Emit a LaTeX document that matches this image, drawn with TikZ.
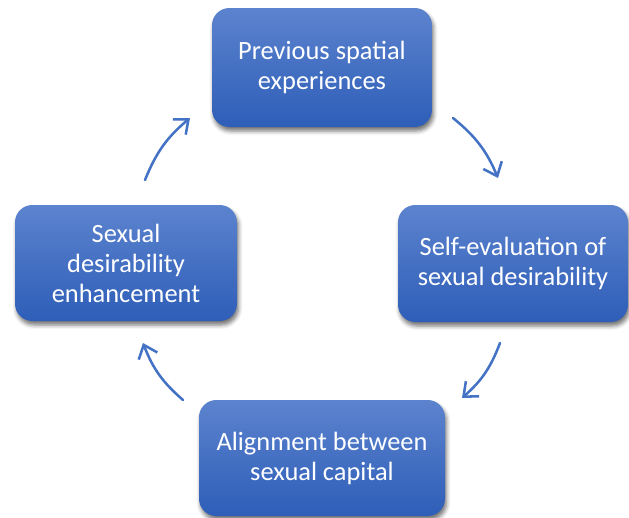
\documentclass[tikz,border=0pt]{standalone}
\usepackage{fontspec}
\setmainfont{Carlito}
\usetikzlibrary{arrows.meta,shadows.blur}
\definecolor{boxtop}{RGB}{92,131,206}
\definecolor{boxbot}{RGB}{46,94,184}
\definecolor{arrowblue}{RGB}{68,114,196}
\tikzset{
  stagebox/.style={rounded corners=13pt, top color=boxtop, bottom color=boxbot,
    draw=none, text=white, align=center, inner sep=0pt,
    font=\fontsize{19.8}{22.5}\selectfont,
    blur shadow={shadow xshift=1.2pt, shadow yshift=-3pt, shadow blur radius=3pt, shadow opacity=55}},
  cyclearrow/.style={draw=arrowblue, line width=1.9pt, line cap=round,
    -{Straight Barb[length=9pt,width=15pt,line width=1.9pt]}}
}
\begin{document}
\begin{tikzpicture}[x=0.75pt,y=0.75pt]
\useasboundingbox (0,0) rectangle (629,-518);
\node[stagebox, minimum width=220*0.75pt, minimum height=119*0.75pt] (top) at (322,-67.5) {Previous spatial\\experiences};
\node[stagebox, minimum width=230*0.75pt, minimum height=117*0.75pt] (right) at (513,-263.5) {Self-evaluation of\\sexual desirability};
\node[stagebox, minimum width=222*0.75pt, minimum height=116*0.75pt] (left) at (126,-263) {Sexual\\desirability\\enhancement};
\node[stagebox, minimum width=246*0.75pt, minimum height=116*0.75pt] (bottom) at (322,-458) {Alignment between\\sexual capital};
\coordinate (a1s) at (453,-118);
\coordinate (a1e) at (498,-178);
\coordinate (a2s) at (500,-343);
\coordinate (a2e) at (462,-398);
\coordinate (a3s) at (183,-400);
\coordinate (a3e) at (143,-343);
\coordinate (a4s) at (145,-180);
\coordinate (a4e) at (190,-118);
\draw[cyclearrow] (a1s) to[bend left=14] (a1e);
\draw[cyclearrow] (a2s) to[bend left=14] (a2e);
\draw[cyclearrow] (a3s) to[bend left=14] (a3e);
\draw[cyclearrow] (a4s) to[bend left=14] (a4e);
\end{tikzpicture}
\end{document}
